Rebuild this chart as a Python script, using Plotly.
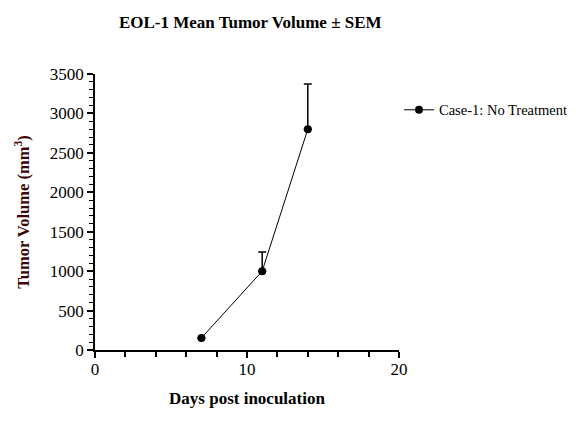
import plotly.graph_objects as go

days = [7, 11, 14]
mean_volume = [152, 1000, 2800]
sem_volume = [0, 243, 573]
series_name = "Case-1: No Treatment"

fig = go.Figure()
fig.add_trace(go.Scatter(
    x=days, y=mean_volume, mode="lines+markers", name=series_name,
    line=dict(color="black", width=1),
    marker=dict(color="black", size=8, symbol="circle"),
    error_y=dict(type="data", symmetric=False, array=sem_volume,
                 arrayminus=[0]*len(sem_volume), color="black", thickness=1.5, width=4),
))

font = "Liberation Serif, Times New Roman, serif"
fig.update_layout(
    width=582, height=440,
    margin=dict(l=95, r=183, t=74, b=90, autoexpand=False),
    paper_bgcolor="white", plot_bgcolor="white",
    font=dict(family=font, color="black"),
    title=dict(text="<b>EOL-1 Mean Tumor Volume ± SEM</b>", x=0.43, xanchor="center",
               y=0.95, yanchor="middle", font=dict(size=17)),
    showlegend=True,
    legend=dict(x=1.0, y=0.87, xanchor="left", yanchor="middle", itemwidth=30,
                font=dict(size=14.5), bgcolor="rgba(0,0,0,0)"),
    xaxis=dict(range=[0, 20], tickvals=[0, 10, 20], showgrid=False, zeroline=False,
               showline=True, linecolor="black", linewidth=1.5,
               ticks="outside", ticklen=6, tickwidth=1.5, tickcolor="black",
               tickfont=dict(size=17), ticklabelstandoff=-3,
               minor=dict(dtick=2, ticks="outside", ticklen=5, tickwidth=1.5, tickcolor="black"),
               title=dict(text="<b>Days post inoculation</b>", font=dict(size=17), standoff=14)),
    yaxis=dict(range=[0, 3500], dtick=500, showgrid=False, zeroline=False,
               showline=True, linecolor="black", linewidth=1.5,
               ticks="outside", ticklen=6, tickwidth=1.5, tickcolor="black",
               tickfont=dict(size=17),
               minor=dict(dtick=100, ticks="outside", ticklen=4, tickwidth=1, tickcolor="black"),
               title=dict(text="<b>Tumor Volume (mm<sup>3</sup>)</b>", font=dict(size=16.5, color="#3a0505"),
                          standoff=16)),
)
fig.write_html("out.html")
